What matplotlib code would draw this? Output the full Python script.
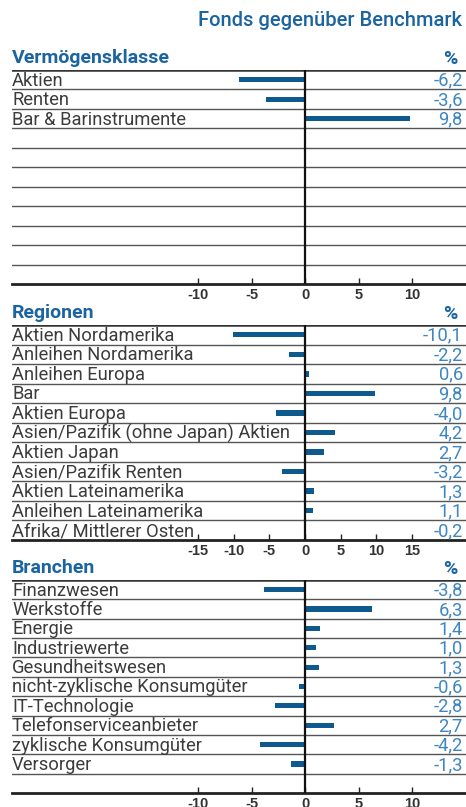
import matplotlib.pyplot as plt
import matplotlib.transforms as mtransforms

# Data
title = 'Fonds gegenüber Benchmark'

klassen = ['Aktien', 'Renten', 'Bar & Barinstrumente']
klassen_vals = [-6.2, -3.6, 9.8]

regionen = ['Aktien Nordamerika', 'Anleihen Nordamerika', 'Anleihen Europa', 'Bar',
            'Aktien Europa', 'Asien/Pazifik (ohne Japan) Aktien', 'Aktien Japan',
            'Asien/Pazifik Renten', 'Aktien Lateinamerika', 'Anleihen Lateinamerika',
            'Afrika/ Mittlerer Osten']
regionen_vals = [-10.1, -2.2, 0.6, 9.8, -4.0, 4.2, 2.7, -3.2, 1.3, 1.1, -0.2]

branchen = ['Finanzwesen', 'Werkstoffe', 'Energie', 'Industriewerte', 'Gesundheitswesen',
            'nicht-zyklische Konsumgüter', 'IT-Technologie', 'Telefonserviceanbieter',
            'zyklische Konsumgüter', 'Versorger']
branchen_vals = [-3.8, 6.3, 1.4, 1.0, 1.3, -0.6, -2.8, 2.7, -4.2, -1.3]

ticks_small = [-10, -5, 0, 5, 10]
ticks_wide = [-15, -10, -5, 0, 5, 10, 15]

BLUE_HEAD = '#1b64a0'
BLUE_BAR = '#0e5a8e'
BLUE_VAL = '#3d86c2'
LINE = '#555555'

W, H = 466, 807
fig = plt.figure(figsize=(W / 100, H / 100), dpi=100)
plt.rcParams['font.family'] = ['Roboto', 'DejaVu Sans']


def panel(top, bottom, header, labels, vals, ticks, px_per_unit):
    nrows = 11
    ax = fig.add_axes([12 / W, 1 - bottom / H, 1 - 12 / W, (bottom - top) / H])
    ax.set_xlim(-293 / px_per_unit, 161 / px_per_unit)
    ax.set_ylim(nrows, 0)
    for s in ['left', 'right', 'top']:
        ax.spines[s].set_visible(False)
    ax.spines['bottom'].set_color('#222222')
    ax.spines['bottom'].set_linewidth(2)
    ax.set_yticks([])
    ax.set_xticks(ticks)
    ax.set_xticklabels([str(t) for t in ticks], family='Liberation Sans',
                       fontsize=10.5, fontweight='bold', color='#333333')
    ax.tick_params(axis='x', direction='in', length=4, width=1, color='#222222', pad=3)

    # row separators
    ax.axhline(0, color='#333333', lw=1.8)
    for i in range(1, nrows):
        ax.axhline(i, color=LINE, lw=1)
    ax.plot([0, 0], [0, nrows], color='#111111', lw=1.6, zorder=3)

    rows = [i + 0.5 for i in range(len(vals))]
    ax.barh(rows, vals, height=0.27, color=BLUE_BAR, zorder=2)

    tr = mtransforms.blended_transform_factory(ax.transAxes, ax.transData)
    for r, lab, v in zip(rows, labels, vals):
        ax.text(0.0, r + 0.05, lab, transform=tr, ha='left', va='center',
                fontsize=13.2, color='#3c3c3c', fontweight='normal')
        ax.text(0.993, r + 0.05, f'{v:.1f}'.replace('.', ','), transform=tr,
                ha='right', va='center', fontsize=13.2, color=BLUE_VAL, fontweight='normal')

    fig.text(12 / W, 1 - (top - 12) / H, header, ha='left', va='center',
             fontsize=14, fontweight='bold', color=BLUE_HEAD)
    fig.text(458 / W, 1 - (top - 11) / H, '%', ha='right', va='center',
             fontsize=14, fontweight='bold', color=BLUE_HEAD)
    return ax


fig.text(462 / W, 1 - 21 / H, title, ha='right', va='center',
         fontsize=14.5, fontweight='medium', color=BLUE_HEAD)

panel(70, 284, 'Vermögensklasse', klassen, klassen_vals, ticks_small, 10.7)
panel(325, 540, 'Regionen', regionen, regionen_vals, ticks_wide, 107 / 15)
panel(580, 793, 'Branchen', branchen, branchen_vals, ticks_small, 10.7)

fig.savefig('out.png', dpi=100)
